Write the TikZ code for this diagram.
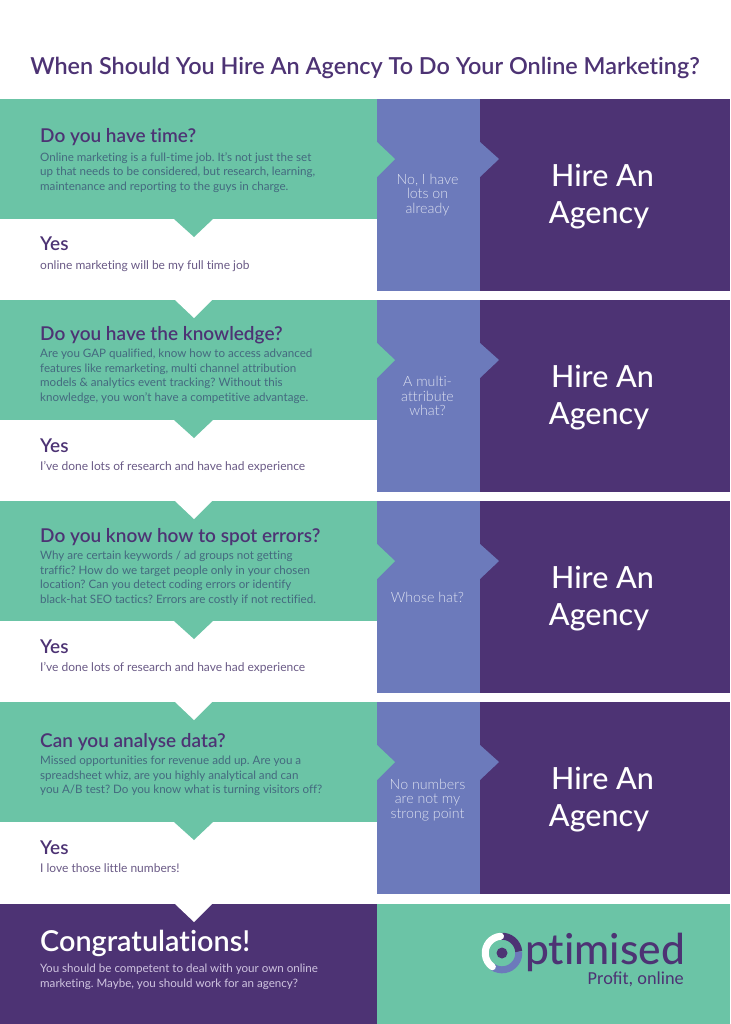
\documentclass[tikz,border=0pt]{standalone}
\usepackage{fontspec}
\setmainfont[Ligatures=NoCommon]{Lato}
\newfontfamily\thinfont[Ligatures=NoCommon]{Lato Light}
\newfontfamily\midfont[Ligatures=NoCommon]{Lato Medium}
\newfontfamily\boldishfont[Ligatures=NoCommon]{Lato Semibold}
\newfontfamily\logofont{Carlito}
\frenchspacing
\definecolor{mintgreen}{HTML}{6BC4A6}
\definecolor{slateblue}{HTML}{6C7ABB}
\definecolor{deeppurple}{HTML}{4D3374}
\definecolor{greenbody}{HTML}{44697F}
\definecolor{whitebody}{HTML}{6A5A86}
\definecolor{purplebody}{HTML}{CFC4E0}
\definecolor{bluebody}{HTML}{DCE0F0}
\tikzset{
	headtext/.style={anchor=base west, inner sep=0pt, font=\boldishfont\fontsize{19}{22}\selectfont, text=deeppurple},
	bodytext/.style={anchor=north west, inner sep=0pt, align=left, font=\rmfamily\fontsize{11.6}{14.5}\selectfont, text=greenbody},
	subtext/.style={anchor=base west, inner sep=0pt, font=\rmfamily\fontsize{12}{14.5}\selectfont, text=whitebody},
	notext/.style={inner sep=0pt, align=center, font=\thinfont\fontsize{14.2}{14.7}\selectfont, text=bluebody},
	hiretext/.style={inner sep=0pt, align=center, font=\midfont\fontsize{30.5}{37}\selectfont, text=white}
}
\begin{document}
\begin{tikzpicture}[x=1pt, y=-1pt, line join=miter]
	\useasboundingbox (0,0) rectangle (730,1024);
	\fill[white] (0,0) rectangle (730,1024);
	\node[inner sep=0pt, anchor=base, font=\boldishfont\fontsize{23.4}{26}\selectfont, text=deeppurple] (title) at (365,74.5) {When Should You Hire An Agency To Do Your Online Marketing?};
	% one block per question
	\foreach \rowy/\hd/\noy/\headtxt/\bodytxt/\yestxt/\notxt in {
		99/44/96/{Do you have time?}/{Online marketing is a full-time job. It's not just the set\\up that needs to be considered, but research, learning,\\maintenance and reporting to the guys in charge.}/{online marketing will be my full time job}/{No, I have\\lots on\\already},
		300/40/96/{Do you have the knowledge?}/{Are you GAP qualified, know how to access advanced\\features like remarketing, multi channel attribution\\models \& analytics event tracking? Without this\\knowledge, you won't have a competitive advantage.}/{I've done lots of research and have had experience}/{A multi-\\attribute\\what?},
		501/41/96/{Do you know how to spot errors?}/{Why are certain keywords / ad groups not getting\\traffic? How do we target people only in your chosen\\location? Can you detect coding errors or identify\\black-hat SEO tactics? Errors are costly if not rectified.}/{I've done lots of research and have had experience}/{Whose hat?},
		702/45/98/{Can you analyse data?}/{Missed opportunities for revenue add up. Are you a\\spreadsheet whiz, are you highly analytical and can\\you A/B test? Do you know what is turning visitors off?}/{I love those little numbers!}/{No numbers\\are not my\\strong point}}
	{
		\fill[deeppurple] (480,\rowy) rectangle (730,\rowy+192);
		\fill[slateblue] (377,\rowy) rectangle (480,\rowy+192);
		\fill[slateblue] (480,\rowy+43)--(499,\rowy+60)--(480,\rowy+78)--cycle;
		\fill[mintgreen] (0,\rowy) rectangle (377,\rowy+120);
		\fill[mintgreen] (377,\rowy+43)--(395,\rowy+60)--(377,\rowy+78)--cycle;
		\fill[mintgreen] (174,\rowy+120)--(194,\rowy+138)--(213,\rowy+120)--cycle;
		\node[headtext] (head\rowy) at (40,\rowy+\hd) {\headtxt};
		\node[bodytext] (body\rowy) at (40,\rowy+\hd+9) {\bodytxt};
		\node[headtext] (yes\rowy) at (40,\rowy+152) {Yes};
		\node[subtext] (sub\rowy) at (40,\rowy+170.5) {\yestxt};
		\node[notext] (no\rowy) at (427.5,\rowy+\noy) {\notxt};
		\node[hiretext] (hire\rowy) at (599,\rowy+98) {\hspace*{7pt}Hire An\\Agency};
	}
	% last band
	\fill[deeppurple] (0,904) rectangle (377,1024);
	\fill[mintgreen] (377,904) rectangle (730,1024);
	\foreach \noty in {300,501,702,904}
		\fill[white] (175,\noty)--(194,\noty+18)--(212,\noty)--cycle;
	\node[headtext, font=\boldishfont\fontsize{28.8}{30}\selectfont, text=white] (congrats) at (40,951.5) {Congratulations!};
	\node[bodytext, text=purplebody] (closing) at (40,964) {You should be competent to deal with your own online\\marketing. Maybe, you should work for an agency?};
	% logo
	\coordinate (ring) at (502,953);
	\draw[slateblue, line width=7pt] (ring)+(125:16.8) arc[start angle=125, end angle=-5, radius=16.8];
	\draw[deeppurple, line width=7pt] (ring)+(-5:16.8) arc[start angle=-5, end angle=-95, radius=16.8];
	\draw[white, line width=7pt, line cap=round] (ring)+(-95:16.8) arc[start angle=-95, end angle=-235, radius=16.8];
	\fill[deeppurple] (ring) circle (5.5);
	\node[inner sep=0pt, anchor=base east, font=\midfont\fontsize{42.5}{50}\selectfont, text=deeppurple] (brand) at (685,964) {ptimised};
	\node[inner sep=0pt, anchor=base east, font=\logofont\fontsize{18.3}{20}\selectfont, text=deeppurple] (slogan) at (684,984) {Profit, online};
\end{tikzpicture}
\end{document}
